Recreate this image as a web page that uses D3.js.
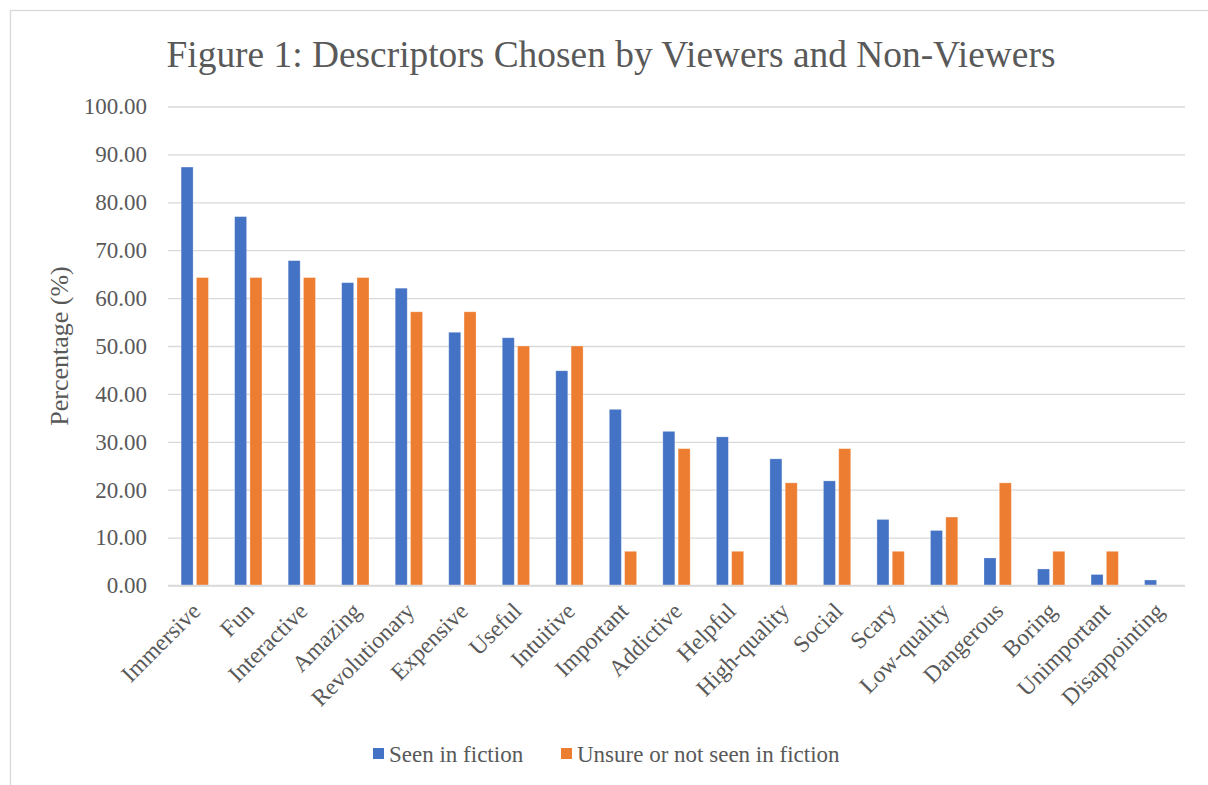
<!DOCTYPE html>
<html>
<head>
<meta charset="utf-8">
<script src="https://cdn.jsdelivr.net/npm/d3@7"></script>
<style>
  html, body { margin: 0; padding: 0; background: #fff; }
  svg { display: block; }
  text { font-family: "Liberation Serif", "Times New Roman", serif; fill: #595959; }
</style>
</head>
<body>
<svg id="chart" width="1208" height="785"></svg>
<script>
const categories = ["Immersive","Fun","Interactive","Amazing","Revolutionary","Expensive","Useful","Intuitive","Important","Addictive","Helpful","High-quality","Social","Scary","Low-quality","Dangerous","Boring","Unimportant","Disappointing"];
const seenInFiction = [87.36,77.01,67.82,63.22,62.07,52.87,51.72,44.83,36.78,32.18,31.03,26.44,21.84,13.79,11.49,5.75,3.45,2.30,1.15];
const unsureOrNotSeen = [64.29,64.29,64.29,64.29,57.14,57.14,50.00,50.00,7.14,28.57,7.14,21.43,28.57,7.14,14.29,21.43,7.14,7.14,0.00];
const seriesNames = ["Seen in fiction","Unsure or not seen in fiction"];
const seriesColors = ["#4472C4","#ED7D31"];
const yTicks = [0,10,20,30,40,50,60,70,80,90,100];
const titleText = "Figure 1: Descriptors Chosen by Viewers and Non-Viewers";
const yAxisTitle = "Percentage (%)";

const svg = d3.select("#chart");

// chart area border
svg.append("rect").attr("x",10.5).attr("y",10.5).attr("width",1220).attr("height",800)
  .attr("fill","#fff").attr("stroke","#d9d9d9").attr("stroke-width",1.3);

const pLeft = 168, pRight = 1185, pTop = 106.5, pBottom = 585.5;
const x0 = d3.scaleBand().domain(categories).range([pLeft,pRight]).paddingInner(0).paddingOuter(0);
const x1 = d3.scaleBand().domain(seriesNames).range([0,x0.bandwidth()]).paddingInner(0.216).paddingOuter(0.856);
const y = d3.scaleLinear().domain([0,100]).range([pBottom,pTop]);

// gridlines
const yAxis = d3.axisLeft(y).tickValues(yTicks).tickSize(-(pRight-pLeft)).tickPadding(21)
  .tickFormat(d3.format(".2f"));
const gy = svg.append("g").attr("transform",`translate(${pLeft},0)`).call(yAxis);
gy.select(".domain").remove();
gy.selectAll(".tick line").attr("stroke","#d9d9d9").attr("stroke-width",1.3);
gy.selectAll(".tick text").attr("font-size","23px").attr("fill","#595959")
  .style("font-family","'Liberation Serif', serif");

// bars
const data = categories.map((c,i)=>({c, vals:[seenInFiction[i], unsureOrNotSeen[i]]}));
const groups = svg.append("g").selectAll("g").data(data).join("g")
  .attr("transform",d=>`translate(${x0(d.c)},0)`);
groups.selectAll("rect").data(d=>d.vals.map((v,j)=>({v,j}))).join("rect")
  .attr("x",d=>x1(seriesNames[d.j]))
  .attr("width",x1.bandwidth())
  .attr("y",d=>y(d.v))
  .attr("height",d=>y(0)-y(d.v))
  .attr("fill",d=>seriesColors[d.j])
  .attr("stroke","#fff").attr("stroke-opacity",0.35).attr("stroke-width",0.8);

// baseline
svg.append("line").attr("x1",pLeft).attr("x2",pRight).attr("y1",y(0)).attr("y2",y(0))
  .attr("stroke","#d9d9d9").attr("stroke-width",1.5);

// x labels
const xAxis = d3.axisBottom(x0).tickSize(0).tickPadding(0);
const gx = svg.append("g").attr("transform",`translate(0,${pBottom})`).call(xAxis);
gx.select(".domain").remove();
gx.selectAll(".tick text")
  .attr("font-size","23.5px").attr("fill","#595959")
  .style("font-family","'Liberation Serif', serif")
  .attr("text-anchor","end")
  .attr("y",0).attr("dy",0)
  .attr("transform","translate(7,27) rotate(-45)");

// y title
svg.append("text").attr("transform",`translate(68,${(pTop+pBottom)/2}) rotate(-90)`)
  .attr("text-anchor","middle").attr("font-size","26px").text(yAxisTitle);

// title
svg.append("text").attr("x",611).attr("y",67).attr("text-anchor","middle")
  .attr("font-size","37.4px").text(titleText);

// legend
const legendItems = [{name:seriesNames[0],color:seriesColors[0],x:373},{name:seriesNames[1],color:seriesColors[1],x:561}];
const lg = svg.append("g").selectAll("g").data(legendItems).join("g")
  .attr("transform",d=>`translate(${d.x},0)`);
lg.append("rect").attr("x",0).attr("y",748).attr("width",11).attr("height",11).attr("fill",d=>d.color);
lg.append("text").attr("x",16).attr("y",762).attr("font-size","23px").text(d=>d.name);
</script>
</body>
</html>
